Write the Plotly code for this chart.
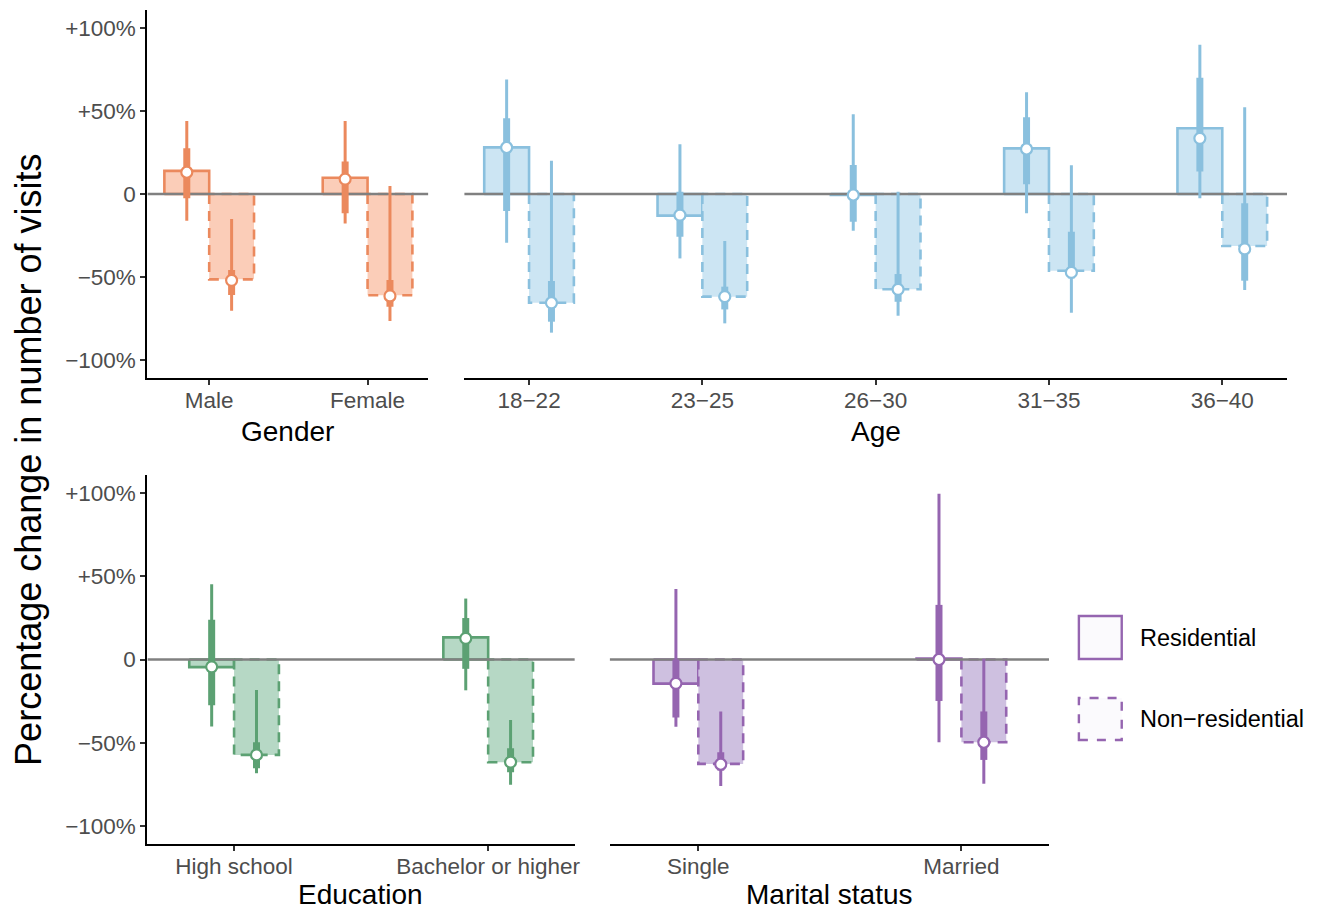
import plotly.graph_objects as go

# ---------------- data (percent change) ----------------
gender_cats = ["Male", "Female"]
gender_res_bar = [13.9, 9.8]
gender_res_pt = [13.1, 9.0]
gender_res_lo95 = [-16.1, -17.7]
gender_res_hi95 = [44.0, 44.0]
gender_res_lo50 = [-2.6, -11.6]
gender_res_hi50 = [27.5, 19.5]
gender_non_bar = [-51.4, -61.0]
gender_non_pt = [-52.0, -61.4]
gender_non_lo95 = [-70.3, -76.5]
gender_non_hi95 = [-15.0, 4.8]
gender_non_lo50 = [-60.8, -67.9]
gender_non_hi50 = [-45.8, -51.8]

age_cats = ["18−22", "23−25", "26−30", "31−35", "36−40"]
age_res_bar = [28.1, -13.0, -0.5, 27.5, 39.6]
age_res_pt = [28.0, -12.7, -0.6, 27.1, 33.5]
age_res_lo95 = [-29.3, -38.8, -22.2, -11.6, -2.6]
age_res_hi95 = [69.0, 29.9, 48.0, 61.2, 89.8]
age_res_lo50 = [-10.2, -25.7, -16.7, 5.8, 13.5]
age_res_hi50 = [45.6, 1.4, 17.5, 46.2, 70.0]
age_non_bar = [-65.5, -61.8, -57.4, -46.2, -31.3]
age_non_pt = [-65.5, -61.8, -57.4, -47.2, -33.1]
age_non_lo95 = [-83.5, -77.9, -73.3, -71.5, -57.8]
age_non_hi95 = [20.0, -28.3, 1.4, 17.3, 52.2]
age_non_lo50 = [-76.9, -69.5, -64.9, -50.8, -52.2]
age_non_hi50 = [-52.4, -55.8, -48.2, -22.7, -5.6]

edu_cats = ["High school", "Bachelor or higher"]
edu_res_bar = [-4.6, 13.3]
edu_res_pt = [-4.4, 12.7]
edu_res_lo95 = [-40.2, -18.5]
edu_res_hi95 = [45.2, 36.6]
edu_res_lo50 = [-27.5, -5.6]
edu_res_hi50 = [23.9, 24.9]
edu_non_bar = [-57.3, -61.7]
edu_non_pt = [-57.3, -61.6]
edu_non_lo95 = [-68.3, -75.2]
edu_non_hi95 = [-18.3, -36.4]
edu_non_lo50 = [-65.3, -67.7]
edu_non_hi50 = [-49.7, -53.3]

mar_cats = ["Single", "Married"]
mar_res_bar = [-14.5, 0.5]
mar_res_pt = [-14.3, 0.0]
mar_res_lo95 = [-40.4, -49.7]
mar_res_hi95 = [42.4, 99.5]
mar_res_lo50 = [-34.8, -24.9]
mar_res_hi50 = [0.0, 32.8]
mar_non_bar = [-62.7, -49.7]
mar_non_pt = [-62.9, -49.7]
mar_non_lo95 = [-76.0, -74.6]
mar_non_hi95 = [-31.2, 0.5]
mar_non_lo50 = [-66.7, -60.3]
mar_non_hi50 = [-55.7, -31.2]

ytick_vals = [-100, -50, 0, 50, 100]
ytick_text = ["−100%", "−50%", "0", "+50%", "+100%"]

# ---------------- styling / layout ----------------
W, H = 1317, 910
FONT = "Liberation Sans, Arial, Helvetica, sans-serif"
TICK_COL = "#4D4D4D"
TICK_SIZE = 22.5
TITLE_SIZE = 28
YTITLE_SIZE = 36
LEG_SIZE = 23.5

def px(x):
    return x / W

def py(y):
    return 1 - y / H

panels = [
    dict(name="Gender", cats=gender_cats, line="#EB895D", fill="#FBCDB8",
         xd=(148, 430), yd=(10, 378), xr=(-0.39, 1.384), showy=True,
         data=(gender_res_bar, gender_res_pt, gender_res_lo95, gender_res_hi95, gender_res_lo50, gender_res_hi50,
               gender_non_bar, gender_non_pt, gender_non_lo95, gender_non_hi95, gender_non_lo50, gender_non_hi50),
         title_xy=(289, 431)),
    dict(name="Age", cats=age_cats, line="#8AC0DE", fill="#CCE5F3",
         xd=(466, 1292), yd=(10, 378), xr=(-0.374, 4.374), showy=False,
         data=(age_res_bar, age_res_pt, age_res_lo95, age_res_hi95, age_res_lo50, age_res_hi50,
               age_non_bar, age_non_pt, age_non_lo95, age_non_hi95, age_non_lo50, age_non_hi50),
         title_xy=(879, 431)),
    dict(name="Education", cats=edu_cats, line="#5CA173", fill="#B6D8C5",
         xd=(148, 577), yd=(475, 844), xr=(-0.341, 1.341), showy=True,
         data=(edu_res_bar, edu_res_pt, edu_res_lo95, edu_res_hi95, edu_res_lo50, edu_res_hi50,
               edu_non_bar, edu_non_pt, edu_non_lo95, edu_non_hi95, edu_non_lo50, edu_non_hi50),
         title_xy=(362, 894)),
    dict(name="Marital status", cats=mar_cats, line="#9565B0", fill="#CEC0E0",
         xd=(612, 1053), yd=(475, 844), xr=(-0.337, 1.333), showy=False,
         data=(mar_res_bar, mar_res_pt, mar_res_lo95, mar_res_hi95, mar_res_lo50, mar_res_hi50,
               mar_non_bar, mar_non_pt, mar_non_lo95, mar_non_hi95, mar_non_lo50, mar_non_hi50),
         title_xy=(833, 894)),
]

YR = (-110.8, 110.8)
BAR_PX = 45  # bar width in pixels

fig = go.Figure()
shapes = []
annotations = []

for i, p in enumerate(panels):
    k = "" if i == 0 else str(i + 1)
    xa, ya = "x" + k, "y" + k
    ppu = (p["xd"][1] - p["xd"][0]) / (p["xr"][1] - p["xr"][0])
    w = BAR_PX / ppu
    (rb, rp, rl95, rh95, rl50, rh50, nb, npt, nl95, nh95, nl50, nh50) = p["data"]
    n = len(p["cats"])

    # bars
    for j in range(n):
        for side, val, dash in ((-1, rb[j], "solid"), (1, nb[j], "10px,7px")):
            x0, x1 = (j - w, j) if side < 0 else (j, j + w)
            fig.add_trace(go.Scatter(
                x=[x0, x0, x1, x1, x0], y=[0, val, val, 0, 0],
                mode="lines", fill="toself", fillcolor=p["fill"],
                line=dict(color=p["line"], width=2.6, dash=dash),
                xaxis=xa, yaxis=ya, showlegend=False, hoverinfo="skip"))

    # zero line
    fig.add_trace(go.Scatter(x=list(p["xr"]), y=[0, 0], mode="lines",
                             line=dict(color="#808080", width=2.5),
                             xaxis=xa, yaxis=ya, showlegend=False, hoverinfo="skip"))

    # intervals
    thin_x, thin_y, thick_x, thick_y = [], [], [], []
    for j in range(n):
        cr, cn = j - w / 2, j + w / 2
        thin_x += [cr, cr, None, cn, cn, None]
        thin_y += [rl95[j], rh95[j], None, nl95[j], nh95[j], None]
        thick_x += [cr, cr, None, cn, cn, None]
        thick_y += [rl50[j], rh50[j], None, nl50[j], nh50[j], None]
    fig.add_trace(go.Scatter(x=thin_x, y=thin_y, mode="lines",
                             line=dict(color=p["line"], width=3),
                             xaxis=xa, yaxis=ya, showlegend=False, hoverinfo="skip"))
    fig.add_trace(go.Scatter(x=thick_x, y=thick_y, mode="lines",
                             line=dict(color=p["line"], width=7),
                             xaxis=xa, yaxis=ya, showlegend=False, hoverinfo="skip"))
    # points
    ptx = [j - w / 2 for j in range(n)] + [j + w / 2 for j in range(n)]
    pty = list(rp) + list(npt)
    fig.add_trace(go.Scatter(x=ptx, y=pty, mode="markers",
                             marker=dict(size=11, color="white", line=dict(color=p["line"], width=2.2)),
                             xaxis=xa, yaxis=ya, showlegend=False, hoverinfo="skip"))

    fig.update_layout(**{
        ("xaxis" + k): dict(domain=[px(p["xd"][0]), px(p["xd"][1])], anchor=ya,
                            range=list(p["xr"]), tickvals=list(range(n)), ticktext=p["cats"],
                            showline=True, linecolor="black", linewidth=2.2,
                            ticks="outside", ticklen=5, tickwidth=2, tickcolor="#333333",
                            ticklabelstandoff=-4,
                            tickfont=dict(family=FONT, size=TICK_SIZE, color=TICK_COL),
                            showgrid=False, zeroline=False, fixedrange=True),
        ("yaxis" + k): dict(domain=[py(p["yd"][1]), py(p["yd"][0])], anchor=xa,
                            range=list(YR), tickvals=ytick_vals, ticktext=ytick_text,
                            showline=p["showy"], linecolor="black", linewidth=2.2,
                            ticks="outside" if p["showy"] else "", ticklen=5, tickwidth=2,
                            tickcolor="#333333", showticklabels=p["showy"],
                            tickfont=dict(family=FONT, size=TICK_SIZE, color=TICK_COL),
                            showgrid=False, zeroline=False, fixedrange=True),
    })
    annotations.append(dict(text=p["name"], x=px(p["title_xy"][0]), y=py(p["title_xy"][1]),
                            xref="paper", yref="paper", xanchor="center", yanchor="middle",
                            showarrow=False, font=dict(family=FONT, size=TITLE_SIZE, color="black")))

# y title
annotations.append(dict(text="Percentage change in number of visits", x=px(28), y=py(460),
                        xref="paper", yref="paper", xanchor="center", yanchor="middle",
                        textangle=-90, showarrow=False,
                        font=dict(family=FONT, size=YTITLE_SIZE, color="black")))

# legend (drawn manually)
leg_col = "#9565B0"
for (y0, y1, dash, label) in ((616, 659, "solid", "Residential"), (698, 740, "dash", "Non−residential")):
    shapes.append(dict(type="rect", xref="paper", yref="paper",
                       x0=px(1083), x1=px(1126), y0=py(y1), y1=py(y0),
                       fillcolor="#FBFAFD", line=dict(color=leg_col, width=2.4, dash=dash)))
    annotations.append(dict(text=label, x=px(1142), y=py((y0 + y1) / 2), xref="paper", yref="paper",
                            xanchor="left", yanchor="middle", showarrow=False,
                            font=dict(family=FONT, size=LEG_SIZE, color="black")))

fig.update_layout(width=W, height=H, margin=dict(l=0, r=0, t=0, b=0),
                  paper_bgcolor="white", plot_bgcolor="white",
                  shapes=shapes, annotations=annotations, showlegend=False)

fig.write_html("out.html", config={"displayModeBar": False, "responsive": False},
               post_script="document.documentElement.style.margin='0';"
                           "document.documentElement.style.overflow='hidden';"
                           "document.body.style.margin='0';document.body.style.padding='0';"
                           "document.body.style.overflow='hidden';")
